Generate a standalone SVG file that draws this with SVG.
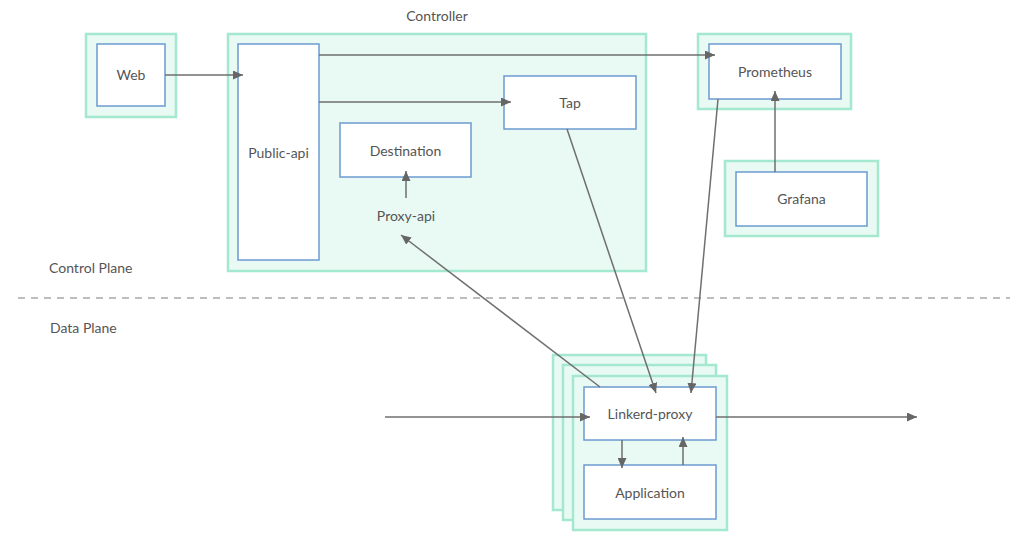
<svg xmlns="http://www.w3.org/2000/svg" width="1024" height="546" viewBox="0 0 1024 546">
<style>
.outer{fill:#e8faf3;stroke:#a3e8cf;stroke-width:2.5}
.inner{fill:#ffffff;stroke:#6b9bd0;stroke-width:1.5}
.t{font-family:Lato,"Open Sans","Liberation Sans",sans-serif;font-size:14px;fill:#555;text-anchor:middle;dominant-baseline:central}
.lbl{font-family:Lato,"Open Sans","Liberation Sans",sans-serif;font-size:14px;fill:#555;dominant-baseline:central}
.c{stroke:#6f6f6f;stroke-width:1.5;fill:none}
</style>
<defs>
<marker id="ah" viewBox="0 0 10 10" refX="10" refY="5" markerWidth="10" markerHeight="9" markerUnits="userSpaceOnUse" orient="auto" preserveAspectRatio="none">
<path d="M0,0 L10,5 L0,10 z" fill="#666"/>
</marker>
</defs>
<rect width="1024" height="546" fill="#ffffff"/>
<text class="t" x="437" y="15">Controller</text>
<text class="lbl" x="49" y="267">Control Plane</text>
<text class="lbl" x="50" y="327">Data Plane</text>
<line x1="18" y1="298" x2="1010" y2="298" stroke="#a8a8a8" stroke-width="1.5" stroke-dasharray="7 6"/>
<g id="web">
<rect class="outer" x="86" y="34" width="90" height="83"/>
<rect class="inner" x="97" y="44" width="68" height="62"/>
<text class="t" x="131" y="74">Web</text>
</g>
<g id="controller">
<rect class="outer" x="228" y="34" width="418" height="237"/>
</g>
<g id="public-api">
<rect class="inner" x="238" y="44" width="81" height="216"/>
<text class="t" x="278.500" y="152">Public-api</text>
</g>
<g id="tap">
<rect class="inner" x="504" y="76" width="132" height="53"/>
<text class="t" x="570" y="102">Tap</text>
</g>
<g id="destination">
<rect class="inner" x="340" y="123" width="131" height="54"/>
<text class="t" x="405.500" y="150">Destination</text>
</g>
<g id="proxy-api">
<text class="t" x="406" y="215">Proxy-api</text>
</g>
<g id="prometheus">
<rect class="outer" x="698" y="34" width="153" height="75"/>
<rect class="inner" x="709" y="44" width="132" height="55"/>
<text class="t" x="775" y="71">Prometheus</text>
</g>
<g id="grafana">
<rect class="outer" x="725" y="161" width="153" height="75"/>
<rect class="inner" x="736" y="172" width="131" height="54"/>
<text class="t" x="801.500" y="198">Grafana</text>
</g>
<g id="pod">
<rect class="outer" x="553" y="355" width="153" height="155"/>
<rect class="outer" x="563" y="365" width="153" height="155"/>
<rect class="outer" x="573" y="376" width="154" height="154"/>
</g>
<g id="linkerd-proxy">
<rect class="inner" x="584" y="387" width="132" height="53"/>
<text class="t" x="650" y="413">Linkerd-proxy</text>
</g>
<g id="application">
<rect class="inner" x="584" y="465" width="132" height="54"/>
<text class="t" x="650" y="492">Application</text>
</g>
<g id="connectors">
<line class="c" x1="165" y1="75" x2="243" y2="75" marker-end="url(#ah)"/>
<line class="c" x1="319" y1="102" x2="511" y2="102" marker-end="url(#ah)"/>
<line class="c" x1="319" y1="55" x2="715" y2="55" marker-end="url(#ah)"/>
<line class="c" x1="406" y1="198" x2="406" y2="171" marker-end="url(#ah)"/>
<line class="c" x1="775" y1="172" x2="775" y2="91" marker-end="url(#ah)"/>
<line class="c" x1="567" y1="129" x2="656" y2="393" marker-end="url(#ah)"/>
<line class="c" x1="718" y1="99" x2="691" y2="393" marker-end="url(#ah)"/>
<line class="c" x1="600" y1="387" x2="401" y2="235" marker-end="url(#ah)"/>
<line class="c" x1="385" y1="417" x2="590" y2="417" marker-end="url(#ah)"/>
<line class="c" x1="716" y1="417" x2="917" y2="417" marker-end="url(#ah)"/>
<line class="c" x1="622" y1="440" x2="622" y2="468" marker-end="url(#ah)"/>
<line class="c" x1="683" y1="465" x2="683" y2="437" marker-end="url(#ah)"/>
</g>
</svg>
